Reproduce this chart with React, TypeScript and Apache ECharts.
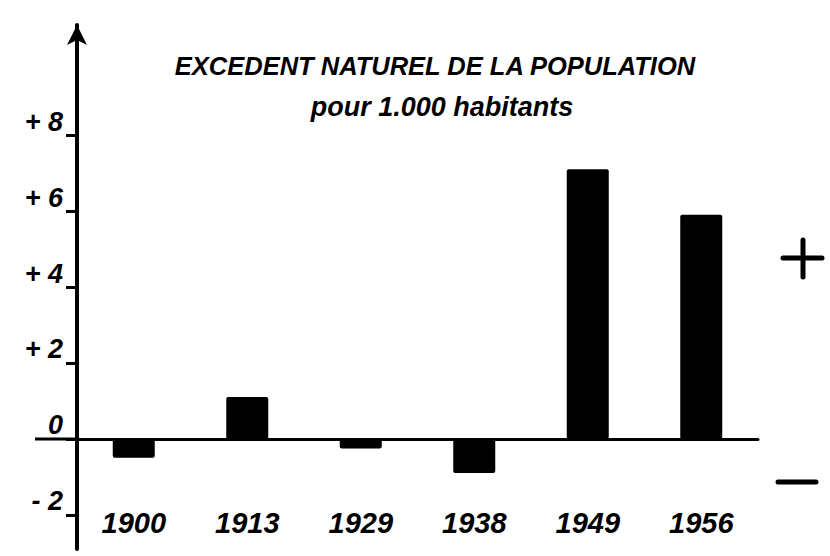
import React, { useEffect, useRef } from "react";
import * as echarts from "echarts";

const years = ["1900", "1913", "1929", "1938", "1949", "1956"];
const excess = [-0.5, 1.1, -0.25, -0.9, 7.1, 5.9];
const yTicks = [-2, 0, 2, 4, 6, 8];
const yTickLabels: Record<string, string> = { "-2": "- 2", "0": "0", "2": "+ 2", "4": "+ 4", "6": "+ 6", "8": "+ 8" };
const titleText = "EXCEDENT NATUREL DE LA POPULATION";
const subtitleText = "pour 1.000 habitants";

const FONT = "'Liberation Sans', Arial, sans-serif";

export default function App() {
  const ref = useRef<HTMLDivElement>(null);
  useEffect(() => {
    if (!ref.current) return;
    const chart = echarts.init(ref.current, null, { renderer: "svg" });
    chart.setOption({
      animation: false,
      backgroundColor: "#ffffff",
      title: [
        {
          text: titleText,
          left: 430,
          top: 48,
          textAlign: "center",
          textStyle: { fontFamily: FONT, fontStyle: "italic", fontWeight: "bold", fontSize: 25.5, color: "#000" },
        },
        {
          text: subtitleText,
          left: 437,
          top: 88,
          textAlign: "center",
          textStyle: { fontFamily: FONT, fontStyle: "italic", fontWeight: "bold", fontSize: 27, color: "#000" },
        },
      ],
      grid: { left: 77, right: 72, top: 25, bottom: 7, containLabel: false, outerBoundsMode: "none" },
      xAxis: {
        type: "category",
        data: years,
        axisLine: { onZero: true, lineStyle: { color: "#000", width: 3 } },
        axisTick: { show: false },
        axisLabel: {
          margin: -41,
          color: "#000",
          fontFamily: FONT,
          fontStyle: "italic",
          fontWeight: "bold",
          fontSize: 29,
        },
        splitLine: { show: false },
      },
      yAxis: {
        type: "value",
        min: -2.9,
        max: 10.9,
        axisLine: {
          show: true,
          onZero: false,
          symbol: ["none", "arrow"],
          symbolSize: [15, 20],
          lineStyle: { color: "#000", width: 4 },
        },
        axisTick: { show: true, customValues: yTicks, length: 11, lineStyle: { color: "#000", width: 3 } },
        axisLabel: {
          customValues: yTicks,
          margin: 14,
          verticalAlign: "bottom",
          color: "#000",
          fontFamily: FONT,
          fontStyle: "italic",
          fontWeight: "bold",
          fontSize: 27,
          formatter: (v: number) => yTickLabels[String(v)] ?? "",
        },
        splitLine: { show: false },
      },
      series: [
        {
          type: "bar",
          data: excess,
          barWidth: 42,
          itemStyle: { color: "#000", borderRadius: 2 },
        },
      ],
      graphic: [
        { type: "line", shape: { x1: 35, y1: 439, x2: 78, y2: 439 }, style: { stroke: "#000", lineWidth: 3 } },
        { type: "line", shape: { x1: 783, y1: 258, x2: 822, y2: 258 }, style: { stroke: "#000", lineWidth: 5, lineCap: "round" } },
        { type: "line", shape: { x1: 803, y1: 240, x2: 803, y2: 277 }, style: { stroke: "#000", lineWidth: 5, lineCap: "round" } },
        { type: "line", shape: { x1: 778, y1: 482, x2: 816, y2: 482 }, style: { stroke: "#000", lineWidth: 5, lineCap: "round" } },
      ],
    });
    return () => chart.dispose();
  }, []);
  return (
    <div
      ref={ref}
      style={{ position: "fixed", left: 0, top: 0, width: 830, height: 556, background: "#fff" }}
    />
  );
}
